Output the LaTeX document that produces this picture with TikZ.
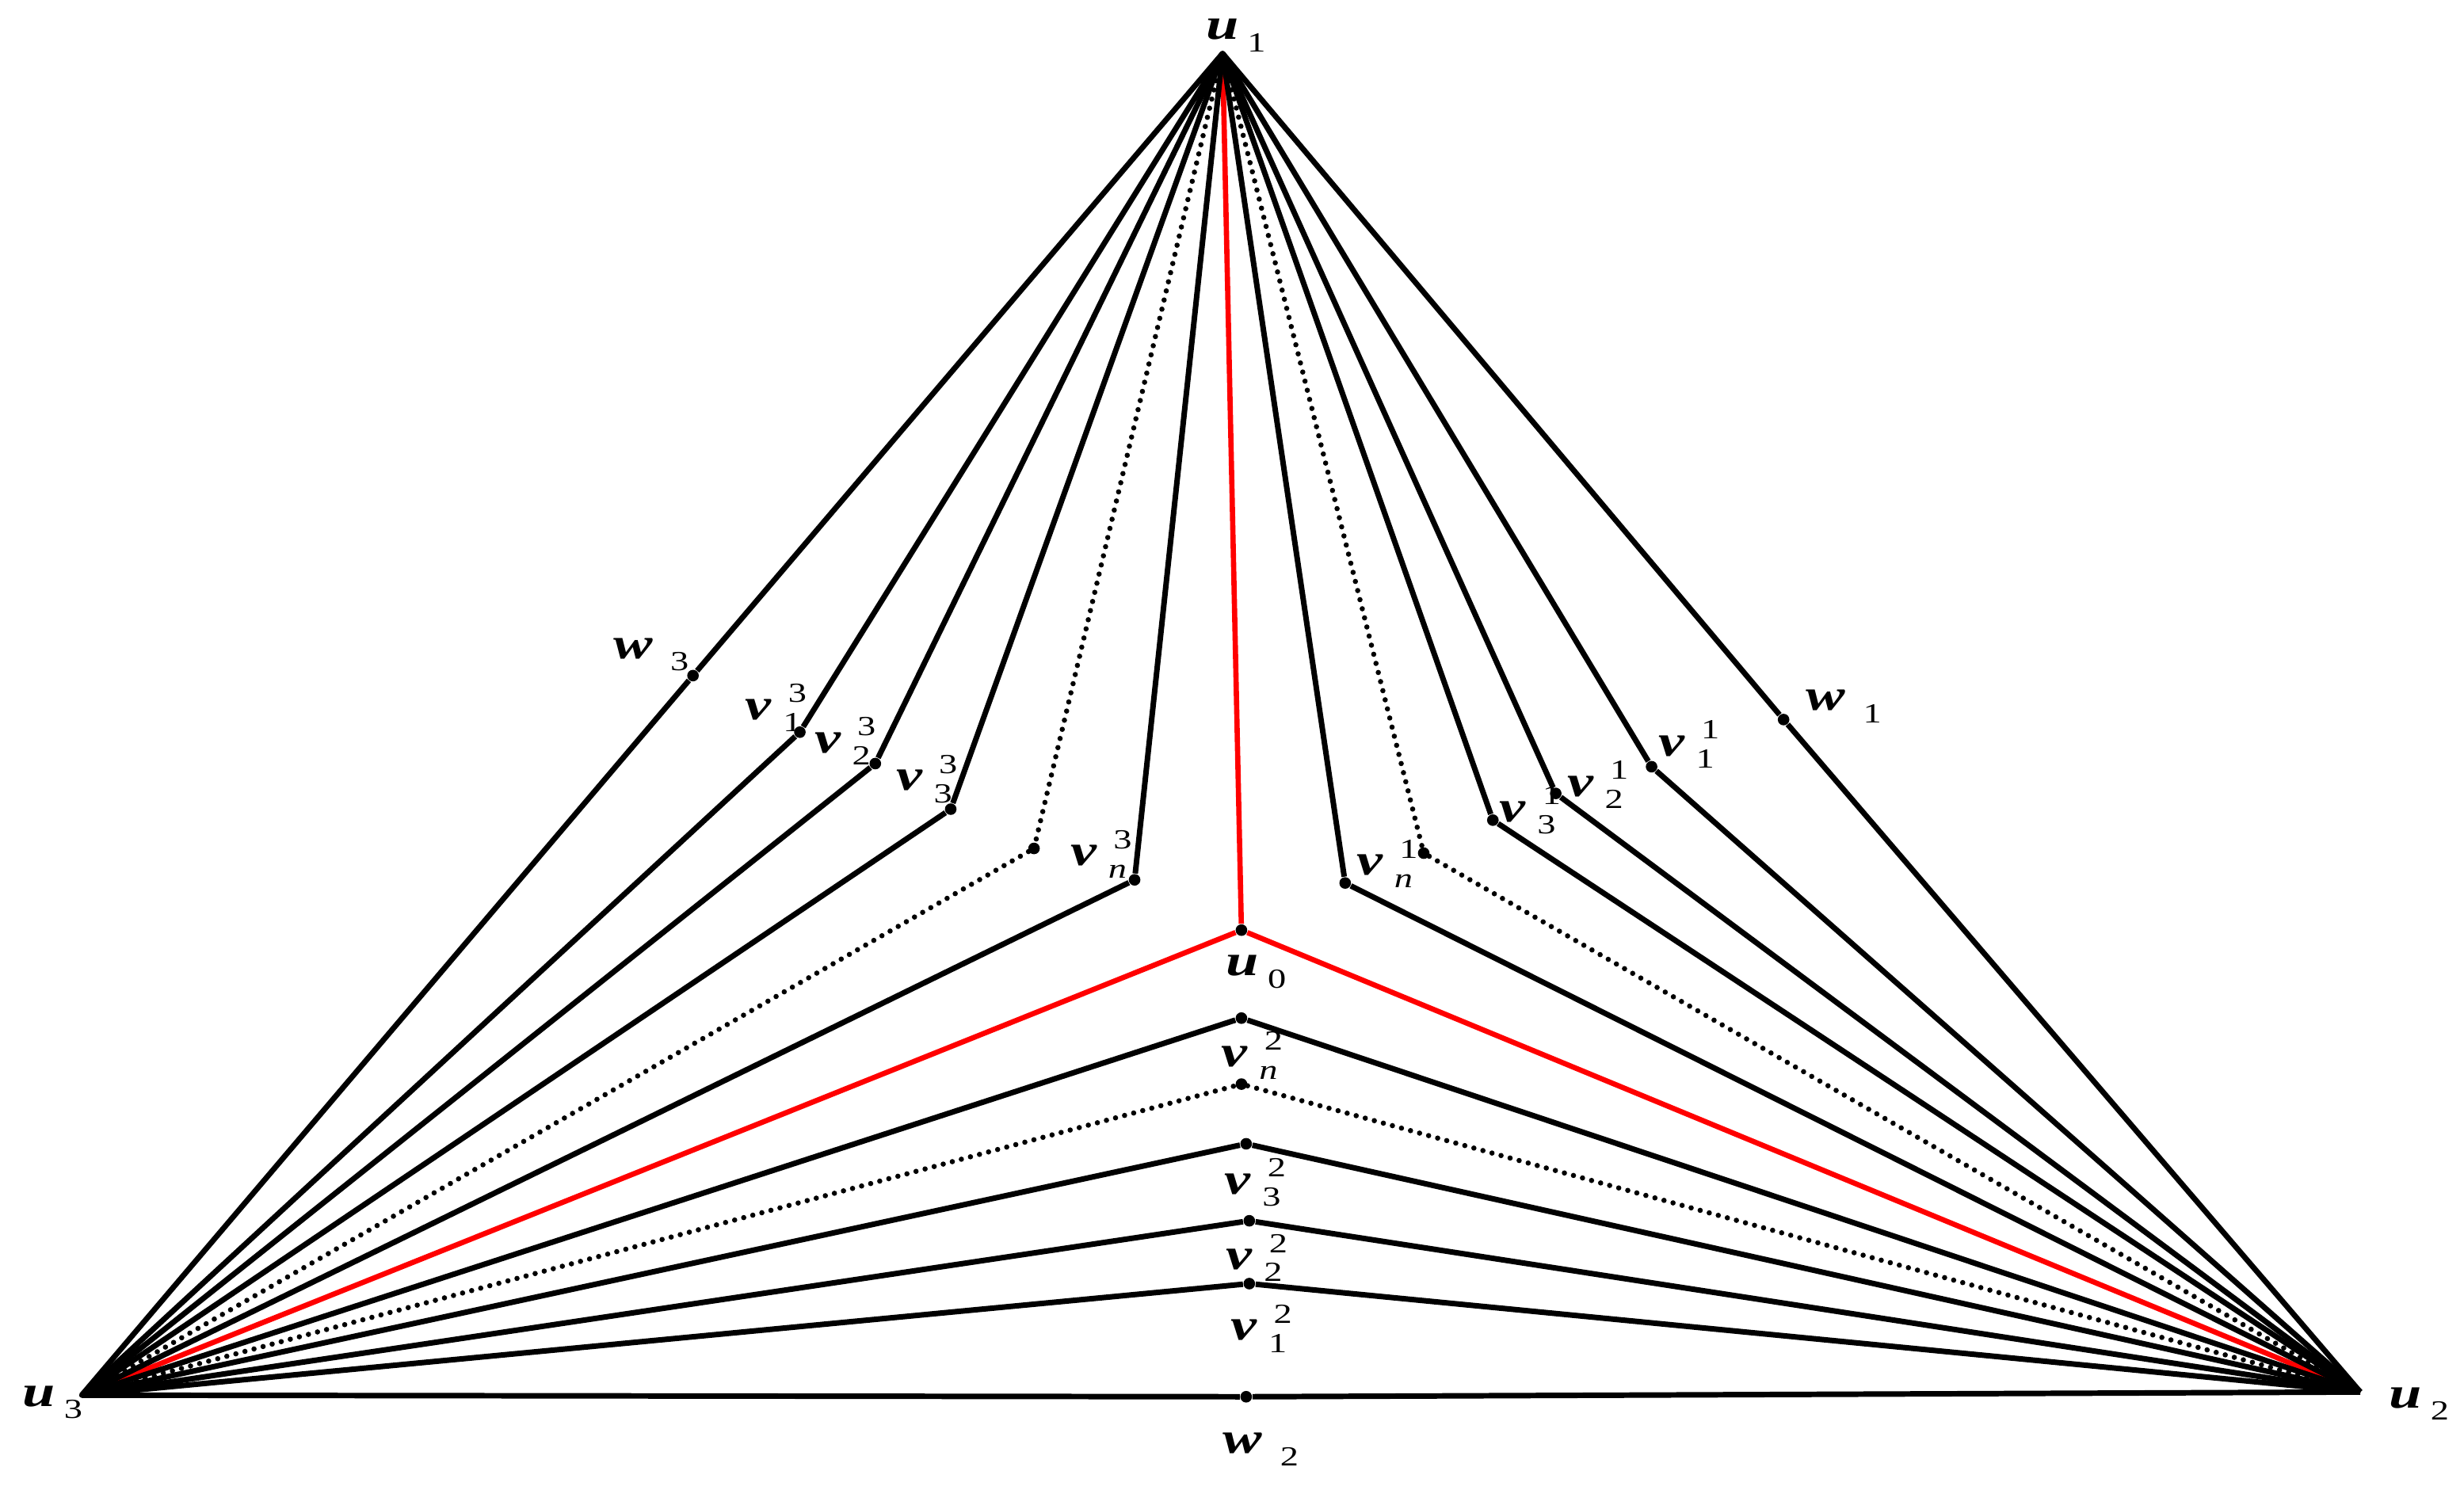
\documentclass[tikz,border=0pt]{standalone}
\usepackage{graphicx}
\usepackage{fontspec}
\setmainfont{Liberation Serif}
\usetikzlibrary{positioning}
\newcommand{\lfont}{\fontsize{16}{17}\selectfont}
\newcommand{\sfont}{\fontsize{10}{11}\selectfont}
% letter with upper and lower index
\newcommand{\vlab}[3]{\scalebox{1.33}[1]{\lfont\textbf{\textit{#1}}\kern3pt\rlap{\kern1.4pt\raisebox{6.2pt}{\sfont #2}}\raisebox{-4.4pt}{\sfont #3}}}
% letter with lower index only
\newcommand{\slab}[3][2.4pt]{\scalebox{1.33}[1]{\lfont\textbf{\textit{#2}}\kern#1\raisebox{-4.5pt}{\sfont #3}}}
\tikzset{
  edge/.style={line width=2pt},
  dotedge/.style={line width=1.9pt, dash pattern=on 0pt off 3.4pt, line cap=round},
  redge/.style={line width=1.9pt, red},
  vtx/.style={circle, fill, inner sep=0pt, minimum size=4.2pt},
  lab/.style={inner sep=0pt, anchor=base west}
}
\begin{document}
\begin{tikzpicture}[x=0.2mm,y=-0.2mm]
\useasboundingbox (0,0) rectangle (1568,948);
% outer corners
\coordinate (u1) at (778,34);
\coordinate (u2) at (1502,886);
\coordinate (u3) at (52,888);
% vertices
\node[vtx] (u0) at (790,592) {};
\node[vtx] (w1) at (1135,458) {};
\node[vtx] (w2) at (793,889) {};
\node[vtx] (w3) at (441,430) {};
\node[vtx] (v13) at (509,466) {};
\node[vtx] (v23) at (557,486) {};
\node[vtx] (v33) at (605,515) {};
\node[vtx] (d3) at (658,540) {};
\node[vtx] (vn3) at (722,560) {};
\node[vtx] (vn1) at (856,562) {};
\node[vtx] (d1) at (906,543) {};
\node[vtx] (v31) at (950,522) {};
\node[vtx] (v21) at (990,505) {};
\node[vtx] (v11) at (1051,488) {};
\node[vtx] (vn2) at (790,648) {};
\node[vtx] (d2) at (790,690) {};
\node[vtx] (v32) at (793,728) {};
\node[vtx] (v22) at (795,777) {};
\node[vtx] (v12) at (795,817) {};

% red star
\draw[redge] (u1) -- (u0);
\draw[redge] (u3) -- (u0) -- (u2);
% outer triangle
\draw[edge] (u1) -- (w3) -- (u3);
\draw[edge] (u1) -- (w1) -- (u2);
\draw[edge] (u3) -- (w2) -- (u2);
% paths through the sides
\draw[edge] (u1) -- (v13) -- (u3);
\draw[edge] (u1) -- (v23) -- (u3);
\draw[edge] (u1) -- (v33) -- (u3);
\draw[dotedge] (u1) -- (d3) -- (u3);
\draw[edge] (u1) -- (vn3) -- (u3);
\draw[edge] (u1) -- (vn1) -- (u2);
\draw[dotedge] (u1) -- (d1) -- (u2);
\draw[edge] (u1) -- (v31) -- (u2);
\draw[edge] (u1) -- (v21) -- (u2);
\draw[edge] (u1) -- (v11) -- (u2);
\draw[edge] (u3) -- (vn2) -- (u2);
\draw[dotedge] (u3) -- (d2) -- (u2);
\draw[edge] (u3) -- (v32) -- (u2);
\draw[edge] (u3) -- (v22) -- (u2);
\draw[edge] (u3) -- (v12) -- (u2);

% labels
\node[lab] (lu1) at (767,25) {\slab{u}{1}};
\node[lab] (lu2) at (1520,896) {\slab{u}{2}};
\node[lab] (lu3) at (14,895) {\slab{u}{3}};
\node[lab] (lu0) at (780,621) {\slab{u}{0}};
\node[lab] (lw1) at (1149,452) {\slab[4.8pt]{w}{1}};
\node[lab] (lw2) at (778,925) {\slab[4.8pt]{w}{2}};
\node[lab] (lw3) at (390,419) {\slab[4.8pt]{w}{3}};
\node[lab] (lv13) at (474,458) {\vlab{v}{3}{1}};
\node[lab] (lv23) at (518,479) {\vlab{v}{3}{2}};
\node[lab] (lv33) at (570,503) {\vlab{v}{3}{3}};
\node[lab] (lvn3) at (681,551) {\vlab{v}{3}{\textit{n}}};
\node[lab] (lvn1) at (863,557) {\vlab{v}{1}{\textit{n}}};
\node[lab] (lv31) at (954,523) {\vlab{v}{1}{3}};
\node[lab] (lv21) at (997,507) {\vlab{v}{1}{2}};
\node[lab] (lv11) at (1055,481) {\vlab{v}{1}{1}};
\node[lab] (lvn2) at (777,679) {\vlab{v}{2}{\textit{n}}};
\node[lab] (lv32) at (779,760) {\vlab{v}{2}{3}};
\node[lab] (lv22) at (780,808) {\vlab{v}{2}{2}};
\node[lab] (lv12) at (783,853) {\vlab{v}{2}{1}};
\end{tikzpicture}
\end{document}
